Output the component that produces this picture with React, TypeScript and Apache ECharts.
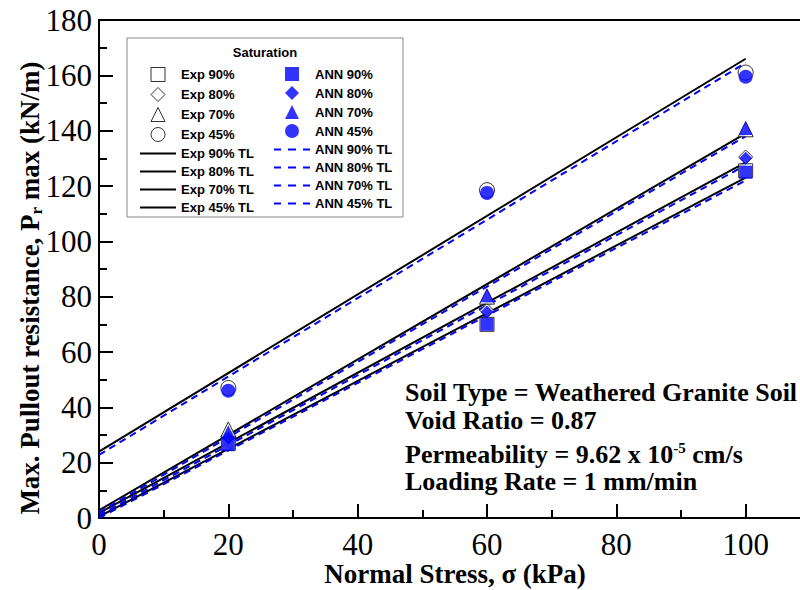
import React, { useEffect, useRef } from "react";
import * as echarts from "echarts";

const stressX = [20, 60, 100];
const exp90 = [27, 70, 125.5];
const exp80 = [29.5, 75, 130.5];
const exp70 = [32, 80, 140.5];
const exp45 = [47, 118.5, 161];
const ann90 = [26.5, 70, 125];
const ann80 = [29, 74.5, 130];
const ann70 = [31, 80.5, 141];
const ann45 = [46, 117.5, 159.5];

const tlX = [0, 100];
const expTL90 = [0.5, 123];
const expTL80 = [1.8, 128.5];
const expTL70 = [2.8, 139];
const expTL45 = [24, 166];
const annTL90 = [0, 122];
const annTL80 = [1, 127.5];
const annTL70 = [2, 138];
const annTL45 = [22.8, 164.5];

const SERIF = "'Liberation Serif', 'Times New Roman', Times, serif";
const SANS = "'Liberation Sans', Arial, Helvetica, sans-serif";

const ICON_SQUARE = "path://M0,0L14,0L14,14L0,14Z";
const ICON_DIAMOND = "path://M7,0L14,7L7,14L0,7Z";
const ICON_TRIANGLE = "path://M7,0L14,14L0,14Z";
const ICON_CIRCLE = "path://M0,7A7,7,0,1,1,14,7A7,7,0,1,1,0,7Z";
const ICON_LINE = "path://M0,0L36,0L36,2L0,2Z";
const ICON_DASH = "path://M0,0L7,0L7,2L0,2ZM14,0L22,0L22,2L14,2ZM29,0L36,0L36,2L29,2Z";

const pts = (xs: number[], ys: number[]) => xs.map((x, i) => [x, ys[i]]);

export default function App() {
  const ref = useRef<HTMLDivElement>(null);
  useEffect(() => {
    if (!ref.current) return;
    const chart = echarts.init(ref.current, null, { renderer: "svg" });

    const expSym = (name: string, sym: string, data: number[], size: number) => ({
      name,
      type: "scatter",
      symbol: sym,
      symbolSize: size,
      data: pts(stressX, data),
      itemStyle: { color: "#fff", borderColor: "#000", borderWidth: 1 },
      z: 3,
    });
    const annSym = (name: string, sym: string, data: number[], size: number) => ({
      name,
      type: "scatter",
      symbol: sym,
      symbolSize: size,
      data: pts(stressX, data),
      itemStyle: { color: "#0000ff" },
      z: 4,
    });
    const expLine = (name: string, data: number[]) => ({
      name,
      type: "line",
      symbol: "none",
      showSymbol: false,
      data: pts(tlX, data),
      itemStyle: { color: "#000" },
      lineStyle: { color: "#000", width: 2 },
      z: 2,
    });
    const annLine = (name: string, data: number[]) => ({
      name,
      type: "line",
      symbol: "none",
      showSymbol: false,
      data: pts(tlX, data),
      itemStyle: { color: "#0000ff" },
      lineStyle: { color: "#0000ff", width: 2, type: [7, 5] },
      z: 2,
    });

    const expItem = (name: string, icon: string) => ({
      name,
      icon,
      itemStyle: { color: "#fff", borderColor: "#000", borderWidth: 1 },
    });
    const annItem = (name: string, icon: string) => ({
      name,
      icon,
      itemStyle: { color: "#0000ff", borderColor: "#0000ff", borderWidth: 0 },
    });
    const lineItem = (name: string, icon: string, color: string) => ({
      name,
      icon,
      itemStyle: { color, borderColor: color, borderWidth: 0 },
    });

    const legendText = { fontFamily: SANS, fontWeight: "bold", fontSize: 13, color: "#000" };
    const legendBase = {
      orient: "vertical",
      top: 62,
      itemWidth: 36,
      itemHeight: 14,
      itemGap: 5,
      selectedMode: false,
      symbolKeepAspect: true,
      textStyle: legendText,
    };

    chart.setOption({
      animation: false,
      backgroundColor: "#fff",
      textStyle: { fontFamily: SERIF },
      grid: {
        left: 99,
        top: 20,
        width: 776,
        height: 498,
        outerBoundsMode: "none",
        containLabel: false,
        show: true,
        borderColor: "#000",
        borderWidth: 2,
        backgroundColor: "transparent",
      },
      xAxis: {
        type: "value",
        min: 0,
        max: 120,
        interval: 20,
        axisLine: { show: true, lineStyle: { color: "#000", width: 2 } },
        axisTick: { show: true, inside: true, length: 14, lineStyle: { color: "#000", width: 2 } },
        minorTick: { show: true, splitNumber: 2, length: 8, lineStyle: { color: "#000", width: 2 } },
        splitLine: { show: false },
        axisLabel: { fontFamily: SERIF, fontSize: 31, color: "#000", margin: 11, showMaxLabel: false },
      },
      yAxis: {
        type: "value",
        min: 0,
        max: 180,
        interval: 20,
        axisLine: { show: true, lineStyle: { color: "#000", width: 2 } },
        axisTick: { show: true, inside: true, length: 14, lineStyle: { color: "#000", width: 2 } },
        minorTick: { show: true, splitNumber: 2, length: 8, lineStyle: { color: "#000", width: 2 } },
        splitLine: { show: false },
        axisLabel: { fontFamily: SERIF, fontSize: 31, color: "#000", margin: 7 },
      },
      legend: [
        {
          ...legendBase,
          left: 135,
          data: [
            expItem("Exp 90%", ICON_SQUARE),
            expItem("Exp 80%", ICON_DIAMOND),
            expItem("Exp 70%", ICON_TRIANGLE),
            expItem("Exp 45%", ICON_CIRCLE),
            lineItem("Exp 90% TL", ICON_LINE, "#000"),
            lineItem("Exp 80% TL", ICON_LINE, "#000"),
            lineItem("Exp 70% TL", ICON_LINE, "#000"),
            lineItem("Exp 45% TL", ICON_LINE, "#000"),
          ],
        },
        {
          ...legendBase,
          left: 269,
          data: [
            annItem("ANN 90%", ICON_SQUARE),
            annItem("ANN 80%", ICON_DIAMOND),
            annItem("ANN 70%", ICON_TRIANGLE),
            annItem("ANN 45%", ICON_CIRCLE),
            lineItem("ANN 90% TL", ICON_DASH, "#0000ff"),
            lineItem("ANN 80% TL", ICON_DASH, "#0000ff"),
            lineItem("ANN 70% TL", ICON_DASH, "#0000ff"),
            lineItem("ANN 45% TL", ICON_DASH, "#0000ff"),
          ],
        },
      ],
      graphic: [
        {
          type: "rect",
          z: 0,
          shape: { x: 127, y: 38, width: 276, height: 179 },
          style: { fill: "#fff", stroke: "#888", lineWidth: 1 },
        },
        {
          type: "text",
          x: 265,
          y: 52,
          z: 5,
          style: { text: "Saturation", fontFamily: SANS, fontWeight: "bold", fontSize: 13, fill: "#000", align: "center", verticalAlign: "middle" },
        },
        {
          type: "text",
          x: 405,
          y: 392,
          z: 5,
          style: { text: "Soil Type = Weathered Granite Soil", fontFamily: SERIF, fontWeight: "bold", fontSize: 26, fill: "#000", align: "left", verticalAlign: "middle" },
        },
        {
          type: "text",
          x: 405,
          y: 420,
          z: 5,
          style: { text: "Void Ratio = 0.87", fontFamily: SERIF, fontWeight: "bold", fontSize: 26, fill: "#000", align: "left", verticalAlign: "middle" },
        },
        {
          type: "text",
          x: 405,
          y: 454,
          z: 5,
          style: {
            text: "{n|Permeability = 9.62 x 10}{s|-5}{n| cm/s}",
            align: "left",
            verticalAlign: "middle",
            rich: {
              n: { fontFamily: SERIF, fontWeight: "bold", fontSize: 26, fill: "#000", lineHeight: 28 },
              s: { fontFamily: SERIF, fontWeight: "bold", fontSize: 15, fill: "#000", verticalAlign: "top", lineHeight: 28 },
            },
          },
        },
        {
          type: "text",
          x: 405,
          y: 481,
          z: 5,
          style: { text: "Loading Rate = 1 mm/min", fontFamily: SERIF, fontWeight: "bold", fontSize: 26, fill: "#000", align: "left", verticalAlign: "middle" },
        },
        {
          type: "text",
          x: 455,
          y: 574,
          z: 5,
          style: { text: "Normal Stress, σ (kPa)", fontFamily: SERIF, fontWeight: "bold", fontSize: 27, lineHeight: 28, fill: "#000", align: "center", verticalAlign: "middle" },
        },
        {
          type: "text",
          x: 30,
          y: 288,
          rotation: Math.PI / 2,
          z: 5,
          style: {
            text: "{a|Max. Pullout resistance, P}{b|r}{a| max (kN/m)}",
            align: "center",
            verticalAlign: "middle",
            rich: {
              a: { fontFamily: SERIF, fontWeight: "bold", fontSize: 27, fill: "#000", lineHeight: 30 },
              b: { fontFamily: SERIF, fontWeight: "bold", fontSize: 17, fill: "#000", verticalAlign: "bottom", lineHeight: 30 },
            },
          },
        },
      ],
      series: [
        expLine("Exp 90% TL", expTL90),
        expLine("Exp 80% TL", expTL80),
        expLine("Exp 70% TL", expTL70),
        expLine("Exp 45% TL", expTL45),
        annLine("ANN 90% TL", annTL90),
        annLine("ANN 80% TL", annTL80),
        annLine("ANN 70% TL", annTL70),
        annLine("ANN 45% TL", annTL45),
        expSym("Exp 90%", "rect", exp90, 14),
        expSym("Exp 80%", "diamond", exp80, 14),
        expSym("Exp 70%", "triangle", exp70, 15),
        expSym("Exp 45%", "circle", exp45, 15),
        annSym("ANN 90%", "rect", ann90, 13),
        annSym("ANN 80%", "diamond", ann80, 13),
        annSym("ANN 70%", "triangle", ann70, 14),
        annSym("ANN 45%", "circle", ann45, 14),
      ],
    });
    return () => chart.dispose();
  }, []);
  return <div ref={ref} style={{ position: "absolute", left: 0, top: 0, width: 800, height: 590 }} />;
}
